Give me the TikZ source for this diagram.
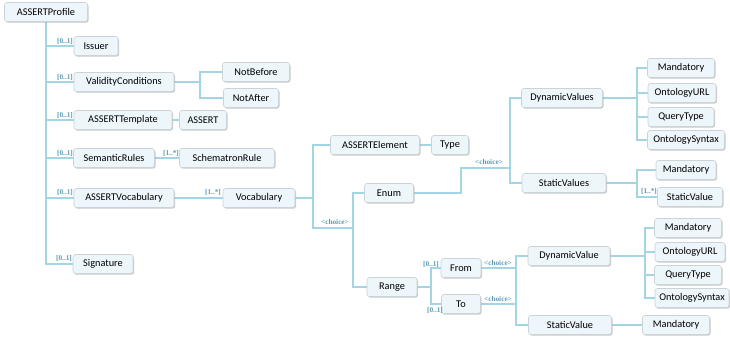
\documentclass[tikz,border=0pt]{standalone}
\usepackage{fontspec}
\setmainfont{Carlito}
\newfontfamily\lblfont{Liberation Serif}
\usetikzlibrary{shadows}
\definecolor{linec}{HTML}{A3D5E4}
\definecolor{boxfill}{HTML}{EDF6FB}
\definecolor{boxline}{HTML}{C9D3D8}
\definecolor{lblc}{HTML}{5B9BB5}
\pgfdeclarelayer{bg}
\pgfsetlayers{bg,main}
\tikzset{
  box/.style={draw=boxline, line width=0.6pt, fill=boxfill, rounded corners=2.5pt,
    minimum height=19pt, inner sep=0pt, font=\fontsize{10.3}{11}\selectfont,
    drop shadow={shadow xshift=1pt, shadow yshift=-1.2pt, fill=black!35, opacity=0.6}},
  conn/.style={draw=linec, line width=2.8pt},
  card/.style={font=\lblfont\bfseries\fontsize{7.3}{7.3}\selectfont, text=lblc, inner sep=0pt},
}
\begin{document}
\begin{tikzpicture}[x=1pt,y=-1pt]
\useasboundingbox (0,0) rectangle (730,339);
% nodes
\node[box, minimum width=83pt] (profile) at (46,12) {ASSERTProfile};
\node[box, minimum width=44pt] (issuer) at (96,46) {Issuer};
\node[box, minimum width=100pt] (valid) at (124,82) {ValidityConditions};
\node[box, minimum width=67pt] (notbefore) at (256,72) {NotBefore};
\node[box, minimum width=55pt] (notafter) at (251,98) {NotAfter};
\node[box, minimum width=98pt] (templ) at (123,120) {ASSERTTemplate};
\node[box, minimum width=47pt] (assert) at (203,120) {ASSERT};
\node[box, minimum width=81pt] (semrules) at (114,158) {SemanticRules};
\node[box, minimum width=95pt] (schem) at (227,158) {SchematronRule};
\node[box, minimum width=100pt] (avoc) at (124,198) {ASSERTVocabulary};
\node[box, minimum width=72pt] (voc) at (259,198) {Vocabulary};
\node[box, minimum width=60pt] (sig) at (103,264) {Signature};
\node[box, minimum width=89pt] (aelem) at (375,145) {ASSERTElement};
\node[box, minimum width=37pt] (type) at (450,145) {Type};
\node[box, minimum width=49pt] (enum) at (389,193) {Enum};
\node[box, minimum width=50pt] (range) at (392,287) {Range};
\node[box, minimum width=81pt] (dynvs) at (562,98) {DynamicValues};
\node[box, minimum width=84pt] (statvs) at (564,183) {StaticValues};
\node[box, minimum width=67pt] (m1) at (681,68) {Mandatory};
\node[box, minimum width=68pt] (o1) at (682,93) {OntologyURL};
\node[box, minimum width=66pt] (q1) at (681,117) {QueryType};
\node[box, minimum width=77pt] (s1) at (686,140) {OntologySyntax};
\node[box, minimum width=60pt] (m2) at (686,170) {Mandatory};
\node[box, minimum width=65pt] (sv1) at (690,197) {StaticValue};
\node[box, minimum width=40pt] (from) at (461,268) {From};
\node[box, minimum width=39pt] (to) at (461,304) {To};
\node[box, minimum width=82pt] (dynv) at (569,256) {DynamicValue};
\node[box, minimum width=83pt] (statv) at (570,325) {StaticValue};
\node[box, minimum width=67pt] (m3) at (688,228) {Mandatory};
\node[box, minimum width=70pt] (o3) at (690,252) {OntologyURL};
\node[box, minimum width=67pt] (q3) at (688,275) {QueryType};
\node[box, minimum width=74pt] (s3) at (692,298) {OntologySyntax};
\node[box, minimum width=67pt] (m4) at (676,325) {Mandatory};
% junction coordinates
\coordinate (vc) at (200,84);
\coordinate (j1) at (313,198);
\coordinate (j2) at (353,228);
\coordinate (e1) at (461,168);
\coordinate (e2) at (510,168);
\coordinate (dj) at (637,98);
\coordinate (sj) at (637,183);
\coordinate (rj) at (431,287);
\coordinate (fj) at (516,286);
\coordinate (dj2) at (645,256);
% connectors
\begin{pgfonlayer}{bg}
\draw[conn] (profile.south) |- (issuer.west);
\draw[conn] (profile.south) |- (valid.west);
\draw[conn] (profile.south) |- (templ.west);
\draw[conn] (profile.south) |- (semrules.west);
\draw[conn] (profile.south) |- (avoc.west);
\draw[conn] (profile.south) |- (sig.west);
\draw[conn] (valid.east) -- (valid.east -| vc);
\draw[conn] (vc) |- (notbefore.west);
\draw[conn] (vc) |- (notafter.west);
\draw[conn] (templ) -- (assert);
\draw[conn] (semrules) -- (schem);
\draw[conn] (avoc) -- (voc);
\draw[conn] (voc.east) -- (j1);
\draw[conn] (j1) |- (aelem.west);
\draw[conn] (j1) |- (j2);
\draw[conn] (j2) |- (enum.west);
\draw[conn] (j2) |- (range.west);
\draw[conn] (aelem) -- (type);
\draw[conn] (enum.east) -| (e1) -- (e2);
\draw[conn] (e2) |- (dynvs.west);
\draw[conn] (e2) |- (statvs.west);
\draw[conn] (dynvs.east) -- (dj);
\draw[conn] (dj) |- (m1.west);
\draw[conn] (dj) |- (o1.west);
\draw[conn] (dj) |- (q1.west);
\draw[conn] (dj) |- (s1.west);
\draw[conn] (statvs.east) -- (sj);
\draw[conn] (sj) |- (m2.west);
\draw[conn] (sj) |- (sv1.west);
\draw[conn] (range.east) -- (rj);
\draw[conn] (rj) |- (from.west);
\draw[conn] (rj) |- (to.west);
\draw[conn] (from.east) -- (from.east -| fj);
\draw[conn] (to.east) -- (to.east -| fj);
\draw[conn] (fj) |- (dynv.west);
\draw[conn] (fj) |- (statv.west);
\draw[conn] (dynv.east) -- (dj2);
\draw[conn] (dj2) |- (m3.west);
\draw[conn] (dj2) |- (o3.west);
\draw[conn] (dj2) |- (q3.west);
\draw[conn] (dj2) |- (s3.west);
\draw[conn] (statv) -- (m4);
\end{pgfonlayer}
% cardinality labels
\node[card] (l1) at (65,41) {[0..1]};
\node[card] (l2) at (65,77) {[0..1]};
\node[card] (l3) at (65,115) {[0..1]};
\node[card] (l4) at (65,153) {[0..1]};
\node[card] (l5) at (65,192) {[0..1]};
\node[card] (l6) at (64,258) {[0..1]};
\node[card] (l7) at (171,153) {[1..*]};
\node[card] (l8) at (213,192) {[1..*]};
\node[card] (l9) at (335,222) {<choice>};
\node[card] (l10) at (489,162) {<choice>};
\node[card] (l11) at (649,191) {[1..*]};
\node[card] (l12) at (431,264) {[0..1]};
\node[card] (l13) at (435,310) {[0..1]};
\node[card] (l14) at (498,263) {<choice>};
\node[card] (l15) at (498,299) {<choice>};
\end{tikzpicture}
\end{document}
